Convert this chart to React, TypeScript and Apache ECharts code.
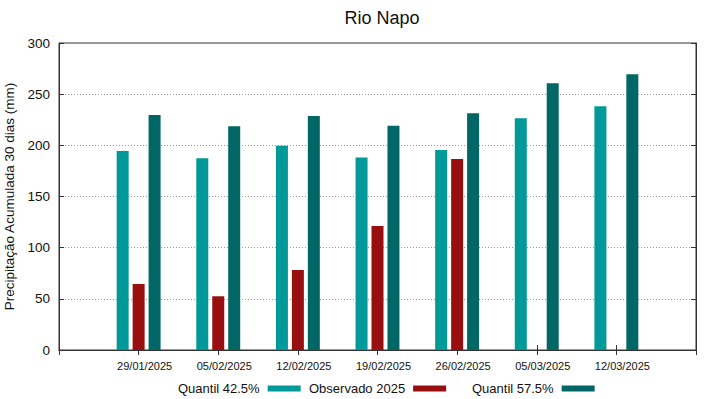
import React, { useEffect, useRef } from "react";
import * as echarts from "echarts";

const dates = ["29/01/2025", "05/02/2025", "12/02/2025", "19/02/2025", "26/02/2025", "05/03/2025", "12/03/2025"];
const quantil425 = [194.5, 187.5, 199.7, 188, 195.4, 226.4, 238.1];
const observado2025 = [64.5, 52.5, 78.2, 121.2, 186.6, null, null];
const quantil575 = [229.6, 218.6, 228.7, 219.2, 231.3, 260.6, 269.4];
const yTicks = [0, 50, 100, 150, 200, 250, 300];

const C1 = "#009999";
const C2 = "#990f0f";
const C3 = "#006666";
const FONT = "Liberation Sans, Arial, sans-serif";

export default function App() {
  const ref = useRef<HTMLDivElement>(null);
  useEffect(() => {
    if (!ref.current) return;
    const chart = echarts.init(ref.current, undefined, { renderer: "svg" });
    const cats = ["", ...dates, ""];
    const pad = (arr: (number | null)[]) => [null, ...arr, null];
    const legendCommon = {
      top: 377,
      align: "right" as const,
      icon: "rect",
      itemWidth: 33,
      itemHeight: 6,
      itemGap: 0,
      selectedMode: false,
      textStyle: { fontFamily: FONT, fontSize: 13, color: "#111", padding: [0, 3, 0, 0] },
    };
    chart.setOption({
      animation: false,
      textStyle: { fontFamily: FONT },
      title: {
        text: "Rio Napo",
        left: 377,
        top: 4,
        textAlign: "center",
        textStyle: { fontFamily: FONT, fontSize: 18, fontWeight: "normal", color: "#111" },
      },
      legend: [
        { ...legendCommon, left: 173, data: ["Quantil 42.5%"] },
        { ...legendCommon, left: 304, data: ["Observado 2025"] },
        { ...legendCommon, left: 467, data: ["Quantil 57.5%"] },
      ],
      grid: {
        left: 59,
        right: 23,
        top: 43,
        bottom: 49,
        show: true,
        borderColor: "#333",
        borderWidth: 1,
        containLabel: false,
        outerBoundsMode: "none",
      },
      xAxis: [
        {
          type: "category",
          data: cats,
          boundaryGap: false,
          axisLine: { show: true, lineStyle: { color: "#333" } },
          axisTick: { show: true, inside: true, length: 5, lineStyle: { color: "#333" } },
          axisLabel: {
            fontFamily: FONT,
            fontSize: 11,
            color: "#111",
            margin: 10,
            padding: [0, 0, 0, 12],
            interval: 0,
          },
        },
        {
          type: "category",
          data: cats,
          boundaryGap: false,
          position: "top",
          axisLine: { show: true, lineStyle: { color: "#333" } },
          axisTick: { show: true, inside: true, length: 5, lineStyle: { color: "#333" } },
          axisLabel: { show: false },
        },
      ],
      yAxis: [
        {
          type: "value",
          min: yTicks[0],
          max: yTicks[yTicks.length - 1],
          interval: 50,
          name: "Precipitação Acumulada 30 dias (mm)",
          nameLocation: "middle",
          nameGap: 32,
          nameTextStyle: { fontFamily: FONT, fontSize: 13.5, color: "#111" },
          axisLine: { show: true, lineStyle: { color: "#333" } },
          axisTick: { show: true, inside: true, length: 5, lineStyle: { color: "#333" } },
          axisLabel: { fontFamily: FONT, fontSize: 13.5, color: "#111", margin: 9 },
          splitLine: { show: true, lineStyle: { type: [1, 2], color: "#999", width: 1 } },
        },
        {
          type: "value",
          min: yTicks[0],
          max: yTicks[yTicks.length - 1],
          interval: 50,
          position: "right",
          axisLine: { show: true, lineStyle: { color: "#333" } },
          axisTick: { show: true, inside: true, length: 5, lineStyle: { color: "#333" } },
          axisLabel: { show: false },
          splitLine: { show: false },
        },
      ],
      series: [
        {
          name: "Quantil 42.5%",
          type: "bar",
          data: pad(quantil425),
          barWidth: 12,
          barGap: "33%",
          itemStyle: { color: C1 },
        },
        {
          name: "Observado 2025",
          type: "bar",
          data: pad(observado2025),
          barWidth: 12,
          barGap: "33%",
          itemStyle: { color: C2 },
        },
        {
          name: "Quantil 57.5%",
          type: "bar",
          data: pad(quantil575),
          barWidth: 12,
          barGap: "33%",
          itemStyle: { color: C3 },
        },
      ],
    });
    return () => chart.dispose();
  }, []);
  return <div ref={ref} style={{ width: 719, height: 399, position: "absolute", left: 0, top: 0 }} />;
}
